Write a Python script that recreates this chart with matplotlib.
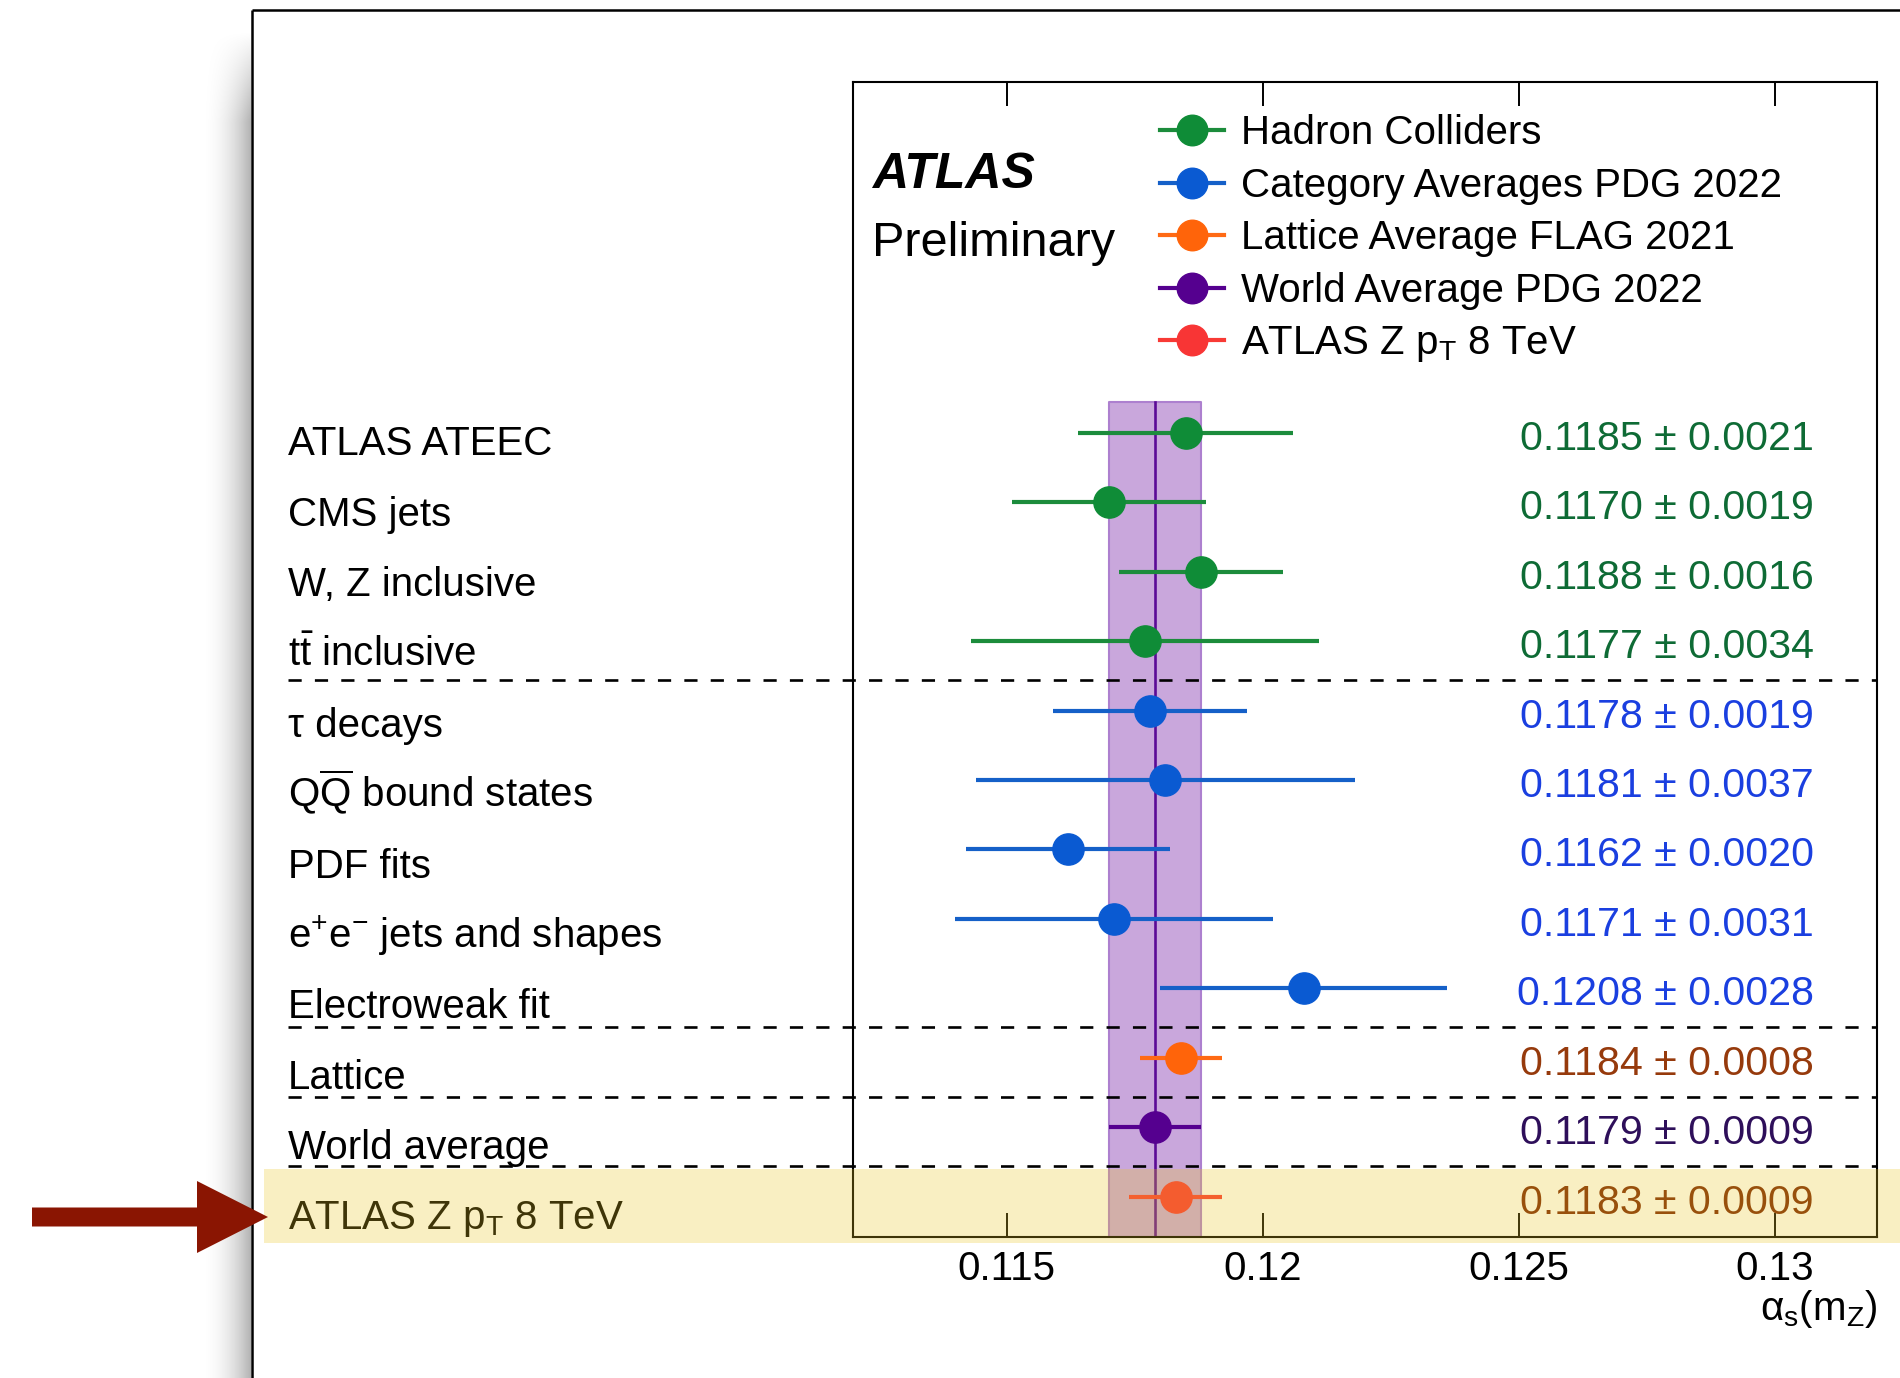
import matplotlib
matplotlib.use('Agg')
import matplotlib.pyplot as plt
import numpy as np
from matplotlib.lines import Line2D
from matplotlib.patches import FancyArrow, Rectangle
import matplotlib.transforms as mtransforms

plt.rcParams['font.family'] = ['Liberation Sans', 'DejaVu Sans']
plt.rcParams['mathtext.fontset'] = 'custom'
plt.rcParams['mathtext.rm'] = 'Liberation Sans'
plt.rcParams['mathtext.it'] = 'Liberation Sans:italic'
plt.rcParams['mathtext.bf'] = 'Liberation Sans:bold'

# ---------------- data ----------------
labels = ['ATLAS ATEEC', 'CMS jets', 'W, Z inclusive', r't$\mathrm{\bar{t}}$ inclusive',
          'τ decays', r'Q$\mathrm{\overline{Q}}$ bound states', 'PDF fits',
          r'e$^{+}$e$^{-}$ jets and shapes', 'Electroweak fit', 'Lattice',
          'World average', r'ATLAS Z p$_{\mathrm{T}}$ 8 TeV']
values = [0.1185, 0.1170, 0.1188, 0.1177, 0.1178, 0.1181, 0.1162, 0.1171,
          0.1208, 0.1184, 0.1179, 0.1183]
errors = [0.0021, 0.0019, 0.0016, 0.0034, 0.0019, 0.0037, 0.0020, 0.0031,
          0.0028, 0.0008, 0.0009, 0.0009]
groups = ['hadron'] * 4 + ['pdg'] * 5 + ['lattice', 'world', 'atlas']
group_order = ['hadron', 'pdg', 'lattice', 'world', 'atlas']
legend_labels = ['Hadron Colliders', 'Category Averages PDG 2022',
                 'Lattice Average FLAG 2021', 'World Average PDG 2022',
                 r'ATLAS Z p$_{\mathrm{T}}$ 8 TeV']
world_avg = 0.1179
world_err = 0.0009
xticks = [0.115, 0.12, 0.125, 0.13]
xticklabels = ['0.115', '0.12', '0.125', '0.13']
separators_after = [3, 8, 9, 10]

# ---------------- styles ----------------
marker_colors = {'hadron': '#0f8c37', 'pdg': '#0a5ad2', 'lattice': '#ff640a',
                 'world': '#55008f', 'atlas': '#f83535'}
line_colors = {'hadron': '#1c8c3c', 'pdg': '#1560c8', 'lattice': '#ff6a14',
               'world': '#55008f', 'atlas': '#f83a35'}
text_colors = {'hadron': '#0e6b35', 'pdg': '#1a3fe0', 'lattice': '#963a0c',
               'world': '#2e0f5a', 'atlas': '#7a2505'}

W, H = 1900, 1378
fig = plt.figure(figsize=(W / 100, H / 100), dpi=100)
fig.patch.set_facecolor('white')

# background (slide frame + shadow)
bg = fig.add_axes([0, 0, 1, 1], zorder=0)
bg.set_xlim(0, W)
bg.set_ylim(H, 0)
bg.axis('off')
bg.patch.set_alpha(0)
sx0, sx1, sy0, sy1 = 198, 251, 30, H
gx = np.linspace(0, 1, 60)
gy = np.linspace(0, 1, 400)
GX, GY = np.meshgrid(gx, gy)
yfade = np.clip((GY * (sy1 - sy0)) / 90.0, 0, 1)
alpha = (GX ** 2.2) * 0.30 * yfade
rgba = np.zeros(GX.shape + (4,))
rgba[..., 3] = alpha
bg.imshow(rgba, extent=[sx0, sx1, sy1, sy0], aspect='auto', interpolation='bilinear')
bg.plot([252, 252], [10, H], color='black', lw=1.8, solid_capstyle='butt')
bg.plot([252, W], [10, 10], color='black', lw=1.8, solid_capstyle='butt')

# main axes
ax = fig.add_axes([853 / W, 1 - 1237 / H, 1024 / W, 1155 / H], zorder=1)
n = len(values)
rows = np.arange(n)
y_top, y_bot = -5.05, 11.58
ax.set_xlim(0.112, 0.132)
ax.set_ylim(y_bot, y_top)
ax.set_yticks([])
ax.set_xticks(xticks, labels=xticklabels)
ax.tick_params(axis='x', which='major', direction='in', length=17.5, width=1.4,
               top=True, labelsize=29, pad=9)
for s in ax.spines.values():
    s.set_linewidth(1.5)

# world-average band
band_top = -0.44
ax.fill_betweenx([band_top, y_bot], world_avg - world_err, world_avg + world_err,
                 facecolor='#c9a7dc', edgecolor='#ad80cf', lw=1.5, zorder=1)
ax.plot([world_avg, world_avg], [band_top, y_bot], color='#5b0a96', lw=1.9, zorder=2)

# separators
trans = mtransforms.blended_transform_factory(ax.transAxes, ax.transData)
for s in separators_after:
    yy = s + 0.56
    ax.add_line(Line2D([-0.5518, 1.0], [yy, yy], transform=trans, color='black',
                       lw=1.9, dashes=(5.0, 5.0), clip_on=False, zorder=3))

# points
for i in range(n):
    g = groups[i]
    ax.errorbar(values[i], rows[i], xerr=errors[i], fmt='o', color=marker_colors[g],
                ecolor=line_colors[g], elinewidth=3.0, markersize=22.5, capsize=0,
                zorder=4)
    ax.text(-0.5518, rows[i] + 0.325 + 0.0132 * i, labels[i], transform=trans,
            ha='left', va='baseline', fontsize=29, color='black', clip_on=False)
    ax.text(0.9385, rows[i] + 0.245, f'{values[i]:.4f} ± {errors[i]:.4f}',
            transform=trans, ha='right', va='baseline', fontsize=29.6,
            color=text_colors[g])

# legend
handles = [Line2D([], [], color=line_colors[g], lw=3.0, marker='o', markersize=22,
                  markerfacecolor=marker_colors[g], markeredgecolor=marker_colors[g])
           for g in group_order]
ax.legend(handles, legend_labels, loc='upper left', bbox_to_anchor=(0.2998, 0.972),
          frameon=False, fontsize=29, handlelength=1.6, handletextpad=0.4,
          labelspacing=0.36, borderpad=0, borderaxespad=0)

ax.text(0.0186, 0.9084, 'ATLAS', transform=ax.transAxes, fontsize=36,
        fontweight='bold', fontstyle='italic', ha='left', va='baseline')
ax.text(0.0186, 0.8496, 'Preliminary', transform=ax.transAxes, fontsize=35,
        ha='left', va='baseline')

ax.set_xlabel('α$_{\\mathrm{s}}$(m$_{\\mathrm{Z}}$)', fontsize=29, loc='right')
ax.xaxis.set_label_coords(1.0, -0.062)
ax.xaxis.label.set_va('center')
ax.xaxis.label.set_ha('right')

# front overlay: highlight + arrow
fr = fig.add_axes([0, 0, 1, 1], zorder=5)
fr.set_xlim(0, W)
fr.set_ylim(H, 0)
fr.axis('off')
fr.patch.set_alpha(0)
fr.add_patch(Rectangle((264, 1169), W - 264, 74, facecolor='#ecc721', alpha=0.27,
                       edgecolor='none'))
fr.add_patch(FancyArrow(32, 1217, 236, 0, width=19, head_width=72, head_length=71,
                        length_includes_head=True, color='#8a1502', lw=0))

fig.savefig('out.png', dpi=100)
